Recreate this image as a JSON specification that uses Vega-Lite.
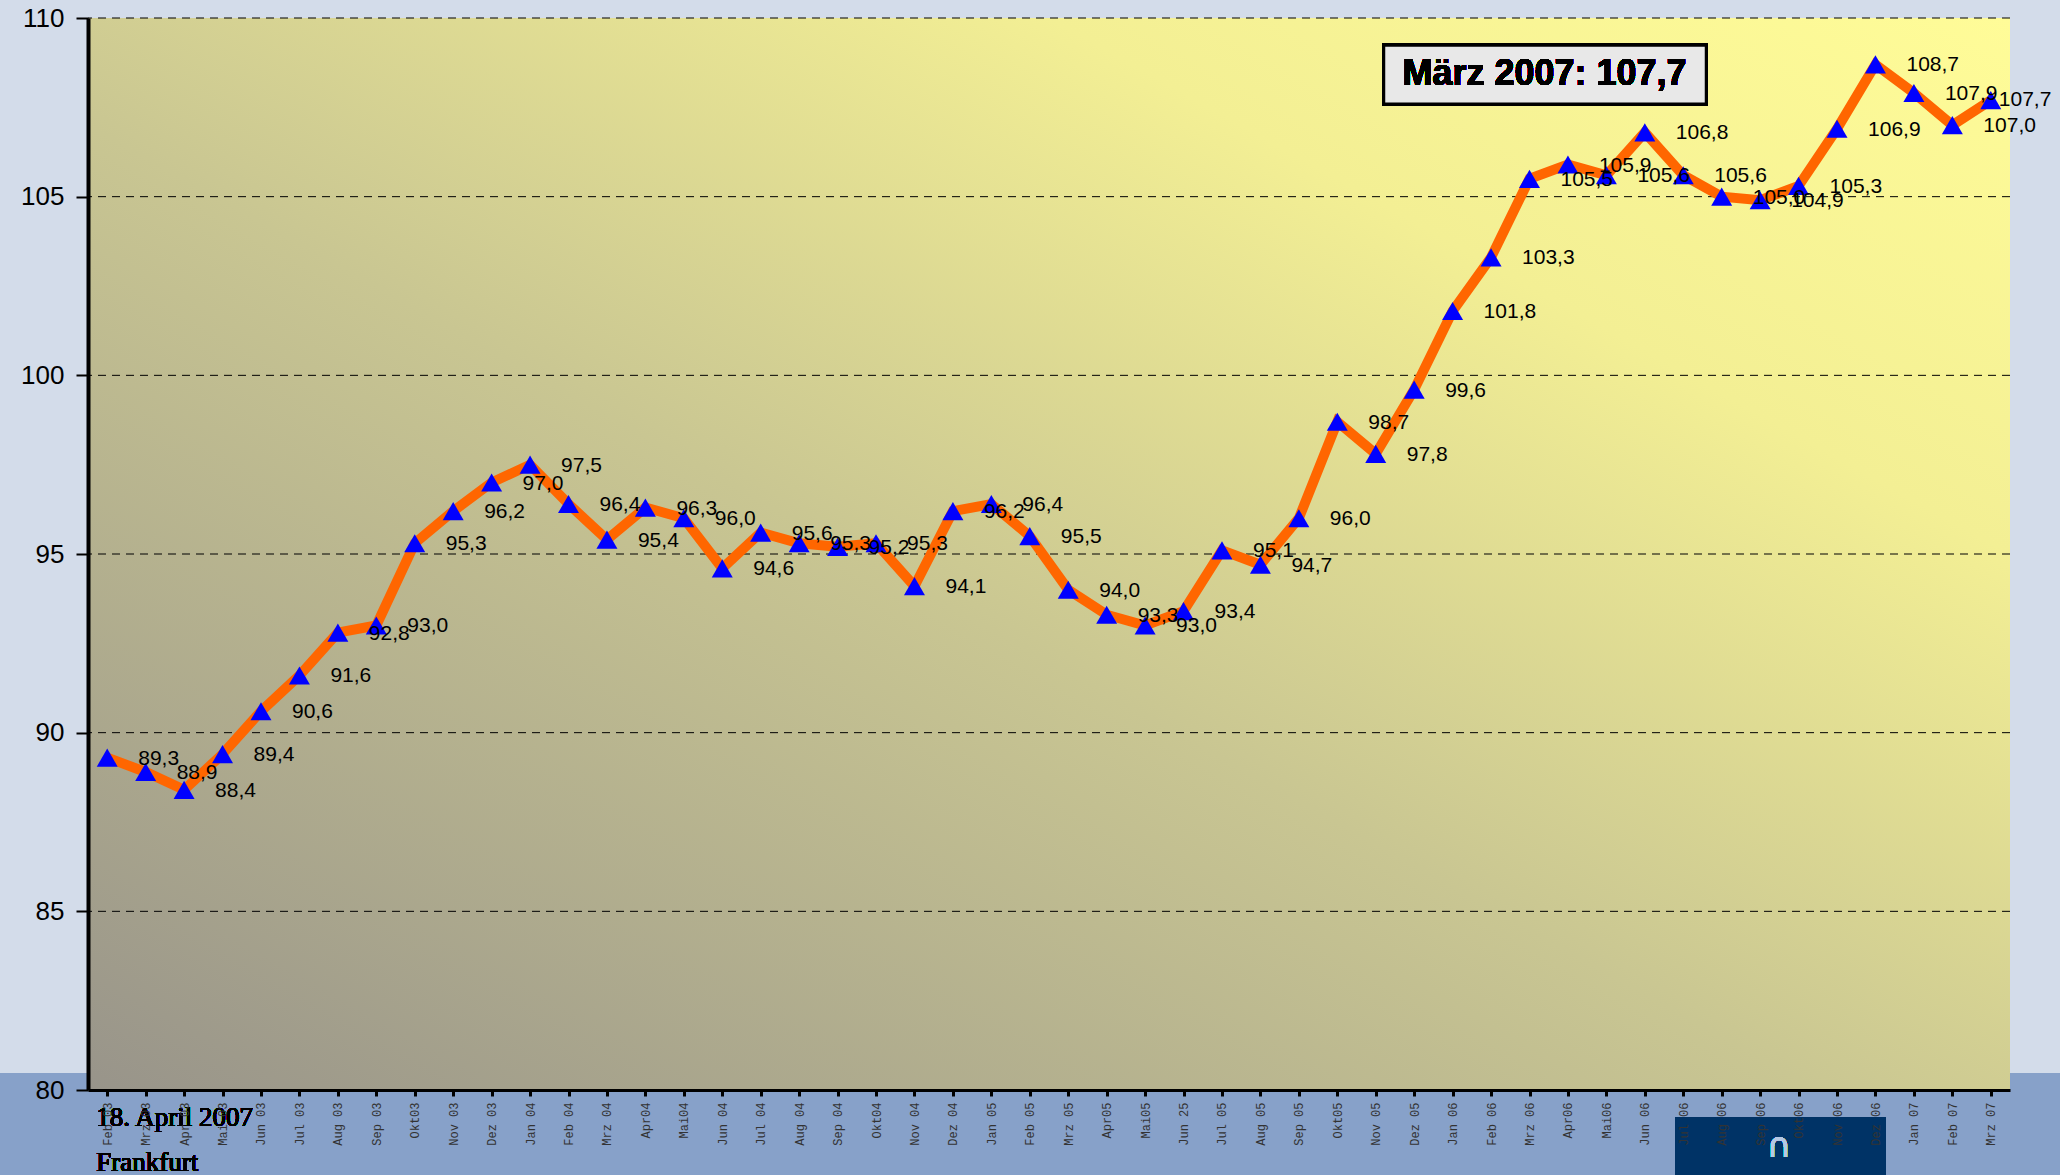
{
  "$schema": "https://vega.github.io/schema/vega-lite/v6.json",
  "width": 1922,
  "height": 1072,
  "autosize": {"type": "none"},
  "padding": {"left": 88, "top": 18, "right": 50, "bottom": 85},
  "background": "#D3DCEA",
  "config": {
    "view": {"stroke": null},
    "locale": {"number": {"decimal": ",", "thousands": ".", "grouping": [3], "currency": ["", " €"]}}
  },
  "datasets": {
    "idx": [
      {"m": "Feb 03", "v": 89.3}, {"m": "Mrz 03", "v": 88.9}, {"m": "Apr 03", "v": 88.4}, {"m": "Mai 03", "v": 89.4},
      {"m": "Jun 03", "v": 90.6}, {"m": "Jul 03", "v": 91.6}, {"m": "Aug 03", "v": 92.8}, {"m": "Sep 03", "v": 93.0},
      {"m": "Okt03", "v": 95.3}, {"m": "Nov 03", "v": 96.2}, {"m": "Dez 03", "v": 97.0}, {"m": "Jan 04", "v": 97.5},
      {"m": "Feb 04", "v": 96.4}, {"m": "Mrz 04", "v": 95.4}, {"m": "Apr04", "v": 96.3}, {"m": "Mai04", "v": 96.0},
      {"m": "Jun 04", "v": 94.6}, {"m": "Jul 04", "v": 95.6}, {"m": "Aug 04", "v": 95.3}, {"m": "Sep 04", "v": 95.2},
      {"m": "Okt04", "v": 95.3}, {"m": "Nov 04", "v": 94.1}, {"m": "Dez 04", "v": 96.2}, {"m": "Jan 05", "v": 96.4},
      {"m": "Feb 05", "v": 95.5}, {"m": "Mrz 05", "v": 94.0}, {"m": "Apr05", "v": 93.3}, {"m": "Mai05", "v": 93.0},
      {"m": "Jun 25", "v": 93.4}, {"m": "Jul 05", "v": 95.1}, {"m": "Aug 05", "v": 94.7}, {"m": "Sep 05", "v": 96.0},
      {"m": "Okt05", "v": 98.7}, {"m": "Nov 05", "v": 97.8}, {"m": "Dez 05", "v": 99.6}, {"m": "Jan 06", "v": 101.8},
      {"m": "Feb 06", "v": 103.3}, {"m": "Mrz 06", "v": 105.5}, {"m": "Apr06", "v": 105.9}, {"m": "Mai06", "v": 105.6},
      {"m": "Jun 06", "v": 106.8}, {"m": "Jul 06", "v": 105.6}, {"m": "Aug 06", "v": 105.0}, {"m": "Sep 06", "v": 104.9},
      {"m": "Okt06", "v": 105.3}, {"m": "Nov 06", "v": 106.9}, {"m": "Dez 06", "v": 108.7}, {"m": "Jan 07", "v": 107.9},
      {"m": "Feb 07", "v": 107.0}, {"m": "Mrz 07", "v": 107.7}
    ],
    "grid": [{"g": 85}, {"g": 90}, {"g": 95}, {"g": 100}, {"g": 105}, {"g": 110}]
  },
  "data": {"name": "idx"},
  "layer": [
    {
      "mark": {"type": "rect", "fill": "#87A1C9", "xOffset": -112, "x2Offset": 75},
      "encoding": {
        "x": {"datum": "Feb 03", "type": "ordinal"}, "x2": {"datum": "Mrz 07"},
        "y": {"datum": 80.475, "type": "quantitative"}, "y2": {"datum": 77.3}
      }
    },
    {
      "mark": {"type": "rect", "fill": {"gradient": "linear", "x1": 0, "y1": 1, "x2": 1, "y2": 0, "stops": [
        {"offset": 0, "color": "#98948A"}, {"offset": 0.45, "color": "#C9C692"},
        {"offset": 0.75, "color": "#F3EF94"}, {"offset": 1, "color": "#FFFC98"}]}},
      "encoding": {"y": {"datum": 80, "type": "quantitative"}, "y2": {"datum": 110}}
    },
    {
      "data": {"name": "grid"},
      "mark": {"type": "rule", "stroke": "#000000", "strokeWidth": 1, "strokeDash": [8, 6]},
      "encoding": {"y": {"field": "g", "type": "quantitative"}}
    },
    {
      "mark": {"type": "rect", "fill": "#003366", "xOffset": -8, "x2Offset": 10},
      "encoding": {
        "x": {"datum": "Jul 06", "type": "ordinal"}, "x2": {"datum": "Dez 06"},
        "y": {"datum": 79.24, "type": "quantitative"}, "y2": {"datum": 77.3}
      }
    },
    {
      "mark": {"type": "text", "text": "∩", "font": "DejaVu Sans", "fontSize": 34, "color": "#B4C8E4", "dx": 19, "baseline": "middle"},
      "encoding": {"x": {"datum": "Sep 06", "type": "ordinal"}, "y": {"datum": 78.4, "type": "quantitative"}}
    },
    {
      "mark": {"type": "line", "stroke": "#FF6600", "strokeWidth": 10},
      "encoding": {
        "x": {"field": "m", "type": "ordinal", "sort": null,
              "scale": {"type": "point", "padding": 0.5, "domain": [
                "Feb 03", "Mrz 03", "Apr 03", "Mai 03", "Jun 03", "Jul 03", "Aug 03", "Sep 03", "Okt03", "Nov 03", "Dez 03",
                "Jan 04", "Feb 04", "Mrz 04", "Apr04", "Mai04", "Jun 04", "Jul 04", "Aug 04", "Sep 04", "Okt04", "Nov 04", "Dez 04",
                "Jan 05", "Feb 05", "Mrz 05", "Apr05", "Mai05", "Jun 25", "Jul 05", "Aug 05", "Sep 05", "Okt05", "Nov 05", "Dez 05",
                "Jan 06", "Feb 06", "Mrz 06", "Apr06", "Mai06", "Jun 06", "Jul 06", "Aug 06", "Sep 06", "Okt06", "Nov 06", "Dez 06",
                "Jan 07", "Feb 07", "Mrz 07"]},
              "axis": {"title": null, "labelAngle": 270, "labelFont": "Liberation Mono", "labelFontSize": 12,
                       "labelColor": "#333333", "labelPadding": 6, "tickSize": 6, "tickWidth": 3, "tickColor": "#000000",
                       "domainColor": "#000000", "domainWidth": 3, "zindex": 1, "labelOverlap": false}},
        "y": {"field": "v", "type": "quantitative",
              "scale": {"domain": [80, 110], "nice": false, "zero": false},
              "axis": {"title": null, "values": [80, 85, 90, 95, 100, 105, 110], "grid": false,
                       "labelFont": "Liberation Sans", "labelFontSize": 26, "labelColor": "#000000", "labelPadding": 12,
                       "tickSize": 12, "tickWidth": 2, "tickColor": "#000000", "domainColor": "#000000",
                       "domainWidth": 4, "zindex": 1}}
      }
    },
    {
      "mark": {"type": "point", "shape": "triangle-up", "filled": true, "fill": "#0000FF", "size": 440, "opacity": 1, "strokeWidth": 0},
      "encoding": {"x": {"field": "m", "type": "ordinal", "sort": null}, "y": {"field": "v", "type": "quantitative"}}
    },
    {
      "transform": [{"filter": "datum.m != 'Mrz 07'"}],
      "mark": {"type": "text", "align": "left", "baseline": "middle", "dx": 31, "dy": 1, "font": "Liberation Sans", "fontSize": 21, "color": "#000000"},
      "encoding": {
        "x": {"field": "m", "type": "ordinal", "sort": null}, "y": {"field": "v", "type": "quantitative"},
        "text": {"field": "v", "type": "quantitative", "format": ".1f"}
      }
    },
    {
      "transform": [{"filter": "datum.m == 'Mrz 07'"}],
      "mark": {"type": "text", "align": "left", "baseline": "middle", "dx": 8, "dy": 0, "font": "Liberation Sans", "fontSize": 21, "color": "#000000"},
      "encoding": {
        "x": {"field": "m", "type": "ordinal", "sort": null}, "y": {"field": "v", "type": "quantitative"},
        "text": {"field": "v", "type": "quantitative", "format": ".1f"}
      }
    },
    {
      "mark": {"type": "rect", "fill": "#E8E8E8", "stroke": "#000000", "strokeWidth": 3, "xOffset": 8, "x2Offset": 23},
      "encoding": {
        "x": {"datum": "Nov 05", "type": "ordinal"}, "x2": {"datum": "Jul 06"},
        "y": {"datum": 109.24, "type": "quantitative"}, "y2": {"datum": 107.59}
      }
    },
    {
      "mark": {"type": "text", "text": "März 2007: 107,7", "font": "Liberation Sans", "fontWeight": "bold", "fontSize": 36, "align": "center", "baseline": "middle", "dx": 15, "color": "#000000"},
      "encoding": {"x": {"datum": "Mrz 06", "type": "ordinal"}, "y": {"datum": 108.42, "type": "quantitative"}}
    },
    {
      "mark": {"type": "text", "text": "18. April 2007", "font": "Liberation Serif", "fontSize": 27, "align": "left", "baseline": "alphabetic", "dx": -11, "color": "#000000"},
      "encoding": {"x": {"datum": "Feb 03", "type": "ordinal"}, "y": {"datum": 78.99, "type": "quantitative"}}
    },
    {
      "mark": {"type": "text", "text": "Frankfurt", "font": "Liberation Serif", "fontSize": 27, "align": "left", "baseline": "alphabetic", "dx": -11, "color": "#000000"},
      "encoding": {"x": {"datum": "Feb 03", "type": "ordinal"}, "y": {"datum": 77.73, "type": "quantitative"}}
    }
  ]
}
